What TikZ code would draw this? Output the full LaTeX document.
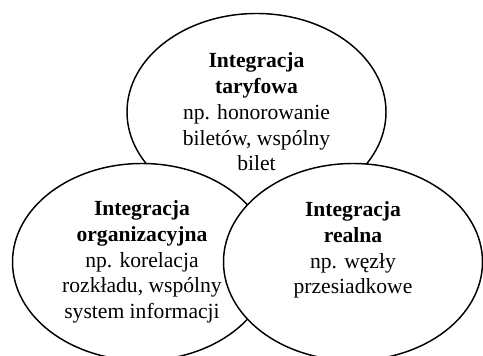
\documentclass[tikz,border=0pt]{standalone}
\usepackage{fontspec}
\setmainfont{Liberation Serif}
\usetikzlibrary{shapes.geometric}

\begin{document}
\begin{tikzpicture}[x=0.75pt, y=0.75pt]
                    \tikzset{krag/.style={ellipse, draw, fill=white, line width=1.1pt, inner sep=0pt, minimum width=194.25pt, minimum height=147.75pt},
                             tekst/.style={align=center, font=\fontsize{16.2}{19.3}\selectfont}}
                    \clip (0,0) rectangle (483,356);
                    % kola: gorne, lewe, prawe
                    \node[krag] (taryf) at (256.5,244) {};
                    \node[krag] (organiz) at (142,94) {};
                    \node[krag] (realna) at (353,94) {};
                    % opisy
                    \node[tekst] (taryfTxt) at (taryf.center) {\textbf{Integracja}\\ \textbf{taryfowa}\\ np. honorowanie\\ biletów, wspólny\\ bilet}; %taryfowa
                    \node[tekst] (organizTxt) at (organiz.center) {\textbf{Integracja}\\ \textbf{organizacyjna}\\ np. korelacja\\ rozkładu, wspólny\\ system informacji}; %organizacyjna
                    \node[tekst] (realnaTxt) at ([yshift=9pt]realna.center) {\textbf{Integracja}\\ \textbf{realna}\\ np. węzły\\ przesiadkowe}; %realna
                \end{tikzpicture}
\end{document}
